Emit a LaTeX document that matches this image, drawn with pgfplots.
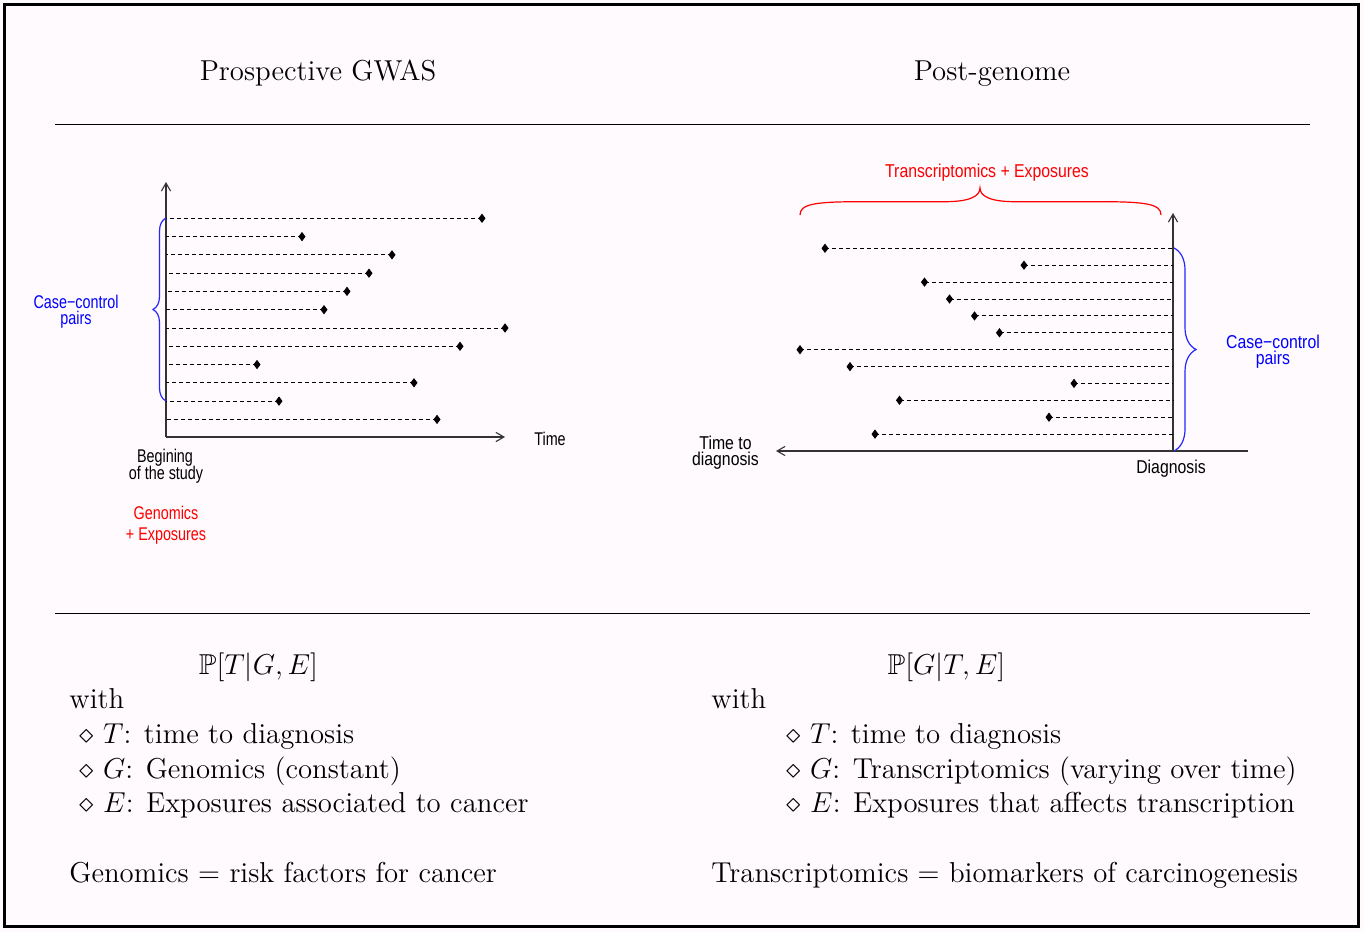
\RequirePackage{fix-cm}
\documentclass[border=0pt]{standalone}
\usepackage{fontspec}
\usepackage{amssymb}
\usepackage{graphicx}
\usepackage{pgfplots}
\pgfplotsset{compat=1.18}
\usepackage{pgfplotstable}
\usetikzlibrary{decorations.pathreplacing,arrows.meta}
\newfontfamily\lsans{Liberation Sans}
\definecolor{bgpink}{RGB}{254,250,253}
\newcommand{\LS}[1]{\scalebox{0.78}[1]{\lsans\fontsize{9.2}{11}\selectfont #1}}
\newcommand{\RS}[1]{\scalebox{0.85}[1]{\lsans\fontsize{9.3}{11}\selectfont #1}}
\newcommand{\bodyfont}{\fontsize{14.4}{17}\selectfont}
\newcommand{\titlefont}{\fontsize{14.4}{17}\selectfont}

% left panel: row position (px), event time (px), length of dashed line back to start
\pgfplotstableread{
y     x    e
218.3 482  316
236.6 302  136
254.9 392  226
273.2 369  203
291.4 347  181
309.7 324  158
328.0 505  339
346.3 460  294
364.5 257  91
382.8 414  248
401.1 279  113
419.4 437  271
}\leftdata
% right panel: row position, sampling time, length of dashed line to diagnosis
\pgfplotstableread{
y     x      e
248.3 825    348
265.2 1024   149
282.1 924.5  248.5
299.0 949.5  223.5
315.9 974.5  198.5
332.8 999.5  173.5
349.7 800    373
366.6 850    323
383.4 1074   99
400.3 899.5  273.5
417.2 1049   124
434.1 875    298
}\rightdata

\begin{document}
\begin{tikzpicture}
\begin{axis}[
  width=682pt, height=466pt, scale only axis,
  xmin=0, xmax=1364, ymin=0, ymax=932, y dir=reverse,
  hide axis, clip=false]
% background and frame
\fill[bgpink] (axis cs:0,0) rectangle (axis cs:1364,932);
\draw[black, line width=1.7pt] (axis cs:4.5,4.2) rectangle (axis cs:1358.5,926.5);
% rules
\draw[line width=0.5pt] (axis cs:55,124) -- (axis cs:1310,124);
\draw[line width=0.5pt] (axis cs:55,613) -- (axis cs:1310,613);
% titles
\node[anchor=base, font=\titlefont, inner sep=0] at (axis cs:318,80.5) {Prospective GWAS};
\node[anchor=base, font=\titlefont, inner sep=0] at (axis cs:992,80.5) {Post-genome};

% ---------- left panel ----------
\draw[black!80, line width=0.55pt, -{Straight Barb[length=4pt,width=4.6pt]}] (axis cs:166,437) -- (axis cs:166,182);
\draw[black!80, line width=0.55pt, -{Straight Barb[length=4pt,width=4.6pt]}] (axis cs:166,437) -- (axis cs:505,437);
\addplot[only marks, mark=diamond*, mark size=2pt, black, mark options={fill=black},
  error bars/.cd, x dir=minus, x explicit, error mark=none,
  error bar style={line width=0.5pt, dash pattern=on 2pt off 1.5pt}]
  table[x=x, y=y, x error=e] {\leftdata};
\draw[blue!85, line width=0.6pt, decorate, decoration={brace, amplitude=6.5pt}] (axis cs:166,401) -- (axis cs:166,218);
\node[anchor=base, text=blue, inner sep=0] at (axis cs:76,308) {\LS{Case−control}};
\node[anchor=base, text=blue, inner sep=0] at (axis cs:76,324.5) {\LS{pairs}};
\node[anchor=base, inner sep=0] at (axis cs:550,445) {\LS{Time}};
\node[anchor=base, inner sep=0] at (axis cs:165,462) {\LS{Begining}};
\node[anchor=base, inner sep=0] at (axis cs:166,479) {\LS{of the study}};
\node[anchor=base, text=red, inner sep=0] at (axis cs:166,519) {\LS{Genomics}};
\node[anchor=base, text=red, inner sep=0] at (axis cs:166,540) {\LS{+ Exposures}};

% ---------- right panel ----------
\draw[black!80, line width=0.55pt, -{Straight Barb[length=4pt,width=4.6pt]}] (axis cs:1173,451) -- (axis cs:1173,213);
\draw[black!80, line width=0.55pt, -{Straight Barb[length=4pt,width=4.6pt]}] (axis cs:1248,451) -- (axis cs:776,451);
\addplot[only marks, mark=diamond*, mark size=2pt, black, mark options={fill=black},
  error bars/.cd, x dir=plus, x explicit, error mark=none,
  error bar style={line width=0.5pt, dash pattern=on 2pt off 1.5pt}]
  table[x=x, y=y, x error=e] {\rightdata};
\draw[blue!85, line width=0.6pt, decorate, decoration={brace, amplitude=11pt}] (axis cs:1174,248) -- (axis cs:1174,451);
\draw[red, line width=0.6pt] (axis cs:800,215) .. controls (axis cs:800,204) and (axis cs:815,201.7) .. (axis cs:860,201.7)
  -- (axis cs:945,201.7) .. controls (axis cs:970,201.7) and (axis cs:980,196) .. (axis cs:980,188)
  .. controls (axis cs:980,196) and (axis cs:990,201.7) .. (axis cs:1015,201.7)
  -- (axis cs:1101,201.7) .. controls (axis cs:1146,201.7) and (axis cs:1161,204) .. (axis cs:1161,215);
\node[anchor=base, text=red, inner sep=0] at (axis cs:987,177.5) {\RS{Transcriptomics + Exposures}};
\node[anchor=base, text=blue, inner sep=0] at (axis cs:1273,348.5) {\RS{Case−control}};
\node[anchor=base, text=blue, inner sep=0] at (axis cs:1273,364) {\RS{pairs}};
\node[anchor=base, inner sep=0] at (axis cs:725.5,449.5) {\RS{Time to}};
\node[anchor=base, inner sep=0] at (axis cs:725.5,465) {\RS{diagnosis}};
\node[anchor=base, inner sep=0] at (axis cs:1171,473.3) {\RS{Diagnosis}};

% ---------- bottom text ----------
\node[anchor=base, font=\bodyfont, inner sep=0] at (axis cs:258.5,674.5) {$\mathbb{P}[T|G,E]$};
\node[anchor=base west, font=\bodyfont, inner sep=0] at (axis cs:69,708.5) {with};
\node[anchor=base west, font=\bodyfont, inner sep=0] at (axis cs:79,743.5) {$\diamond$ $T$: time to diagnosis};
\node[anchor=base west, font=\bodyfont, inner sep=0] at (axis cs:79,778.2) {$\diamond$ $G$: Genomics (constant)};
\node[anchor=base west, font=\bodyfont, inner sep=0] at (axis cs:79,812.8) {$\diamond$ $E$: Exposures associated to cancer};
\node[anchor=base west, font=\bodyfont, inner sep=0] at (axis cs:69,882) {Genomics $=$ risk factors for cancer};

\node[anchor=base, font=\bodyfont, inner sep=0] at (axis cs:946.5,674.5) {$\mathbb{P}[G|T,E]$};
\node[anchor=base west, font=\bodyfont, inner sep=0] at (axis cs:711,708.5) {with};
\node[anchor=base west, font=\bodyfont, inner sep=0] at (axis cs:786,743.5) {$\diamond$ $T$: time to diagnosis};
\node[anchor=base west, font=\bodyfont, inner sep=0] at (axis cs:786,778.2) {$\diamond$ $G$: Transcriptomics (varying over time)};
\node[anchor=base west, font=\bodyfont, inner sep=0] at (axis cs:786,812.8) {$\diamond$ $E$: Exposures that affects transcription};
\node[anchor=base west, font=\bodyfont, inner sep=0] at (axis cs:711,882) {Transcriptomics $=$ biomarkers of carcinogenesis};
\end{axis}
\end{tikzpicture}
\end{document}
